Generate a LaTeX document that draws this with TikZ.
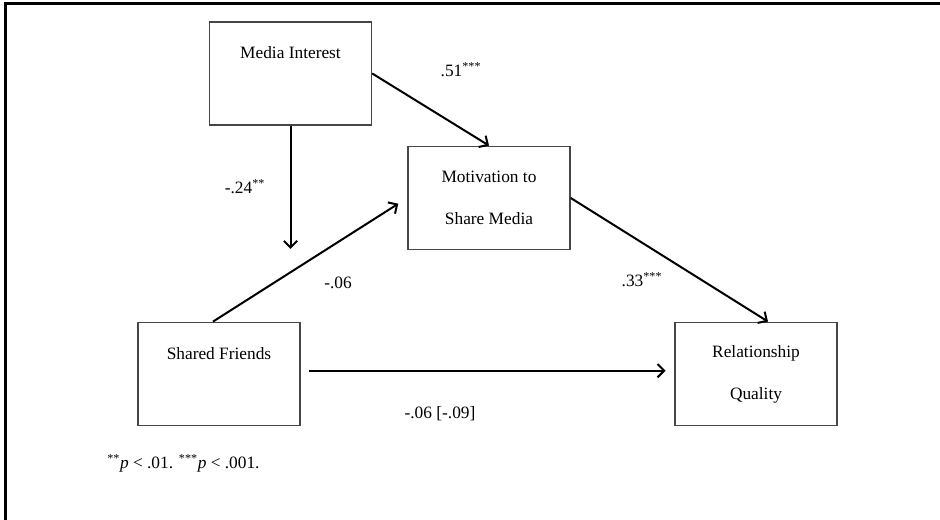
\documentclass[tikz,border=0pt]{standalone}
\usepackage{fontspec}
\setmainfont{Liberation Serif}
\usepackage{tikz}
\usetikzlibrary{arrows,arrows.meta}

\tikzset{
  varbox/.style={draw={rgb,255:red,70;green,70;blue,70}, line width=1.1pt,
    minimum width=121.5pt, minimum height=77.5pt, align=center,
    font=\fontsize{13}{31.5}\selectfont},
  path/.style={line width=1.5pt, ->, >={Straight Barb[length=5pt,width=10pt]}},
  coef/.style={font=\fontsize{13}{15}\selectfont, inner sep=0pt}
}

\begin{document}
\begin{tikzpicture}[x=0.75pt,y=0.75pt,yscale=-1,xscale=1]
%set diagram left start at 0, and has height of 520
\useasboundingbox (0,0) rectangle (940,520);
%Frame [id:frame]
\draw [line width=2.25pt] (5,520) -- (5,4) -- (940,4) ;

%Boxes
\node [varbox] (mi) at (290.5,73.5) {Media Interest\\ ~};
\node [varbox] (mot) at (489,198) {Motivation to\\ Share Media};
\node [varbox] (sf) at (219,374) {Shared Friends\\ ~};
\node [varbox] (rq) at (756,374) {Relationship\\ Quality};
\coordinate (moddown) at (290.5,249);

%Paths
\draw [path] (mi.east) -- (mot.north) ;
\draw [path] (mi.south) -- (moddown) ;
\draw [path, shorten >=8pt] ([xshift=-4.5pt]sf.north) -- (mot.west) ;
\draw [path] (mot.east) -- ([xshift=9pt]rq.north) ;
\draw [path, shorten <=6pt, shorten >=6.5pt] ([yshift=-2.5pt]sf.east) -- ([yshift=-2.5pt]rq.west) ;

%Coefficients
\node [coef] (c1) at (461,70) {.51\textsuperscript{***}};
\node [coef] (c2) at (245,187) {-.24\textsuperscript{**}};
\node [coef] (c3) at (338,283) {-.06};
\node [coef] (c4) at (642,280) {.33\textsuperscript{***}};
\node [coef] (c5) at (440,414) {-.06 [-.09]};

%Note
\node [coef, anchor=west] (note) at (107,463) {\textsuperscript{**}\textit{p} < .01. \textsuperscript{***}\textit{p} < .001.};
\end{tikzpicture}
\end{document}
